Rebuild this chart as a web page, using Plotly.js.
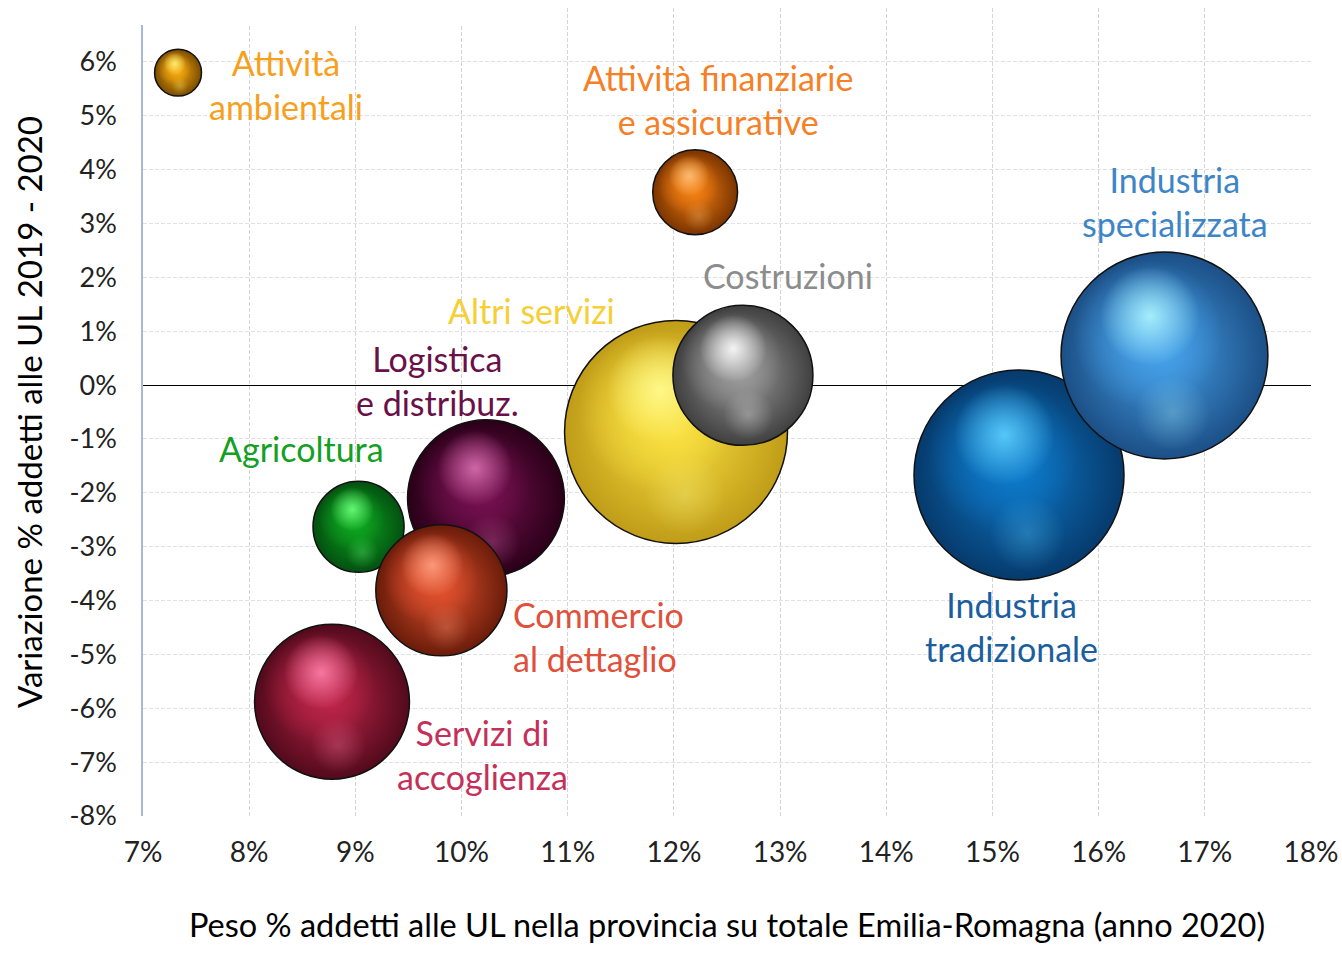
<!DOCTYPE html>
<html lang="it">
<head>
<meta charset="UTF-8">
<title>Addetti alle UL per settore</title>
<script src="https://cdn.plot.ly/plotly-3.0.1.min.js"></script>
<style>
    html, body { margin: 0; padding: 0; background: #fff; }
    #chart { width: 1342px; height: 971px; }
</style>
</head>
<body>
<div id="chart"></div>
<script>
// dati (ordine = ordine di disegno, dal fondo)
const settori = ['Altri servizi', 'Costruzioni', 'Industria tradizionale', 'Industria specializzata',
    'Logistica e distribuz.', 'Agricoltura', 'Commercio al dettaglio', 'Servizi di accoglienza',
    'Attività ambientali', 'Attività finanziarie e assicurative'];
const etichette = ['Altri servizi', 'Costruzioni', 'Industria<br>tradizionale', 'Industria<br>specializzata',
    'Logistica<br>e distribuz.', 'Agricoltura', 'Commercio<br>al dettaglio', 'Servizi di<br>accoglienza',
    'Attività<br>ambientali', 'Attività finanziarie<br>e assicurative'];
const peso = [12.02, 12.65, 15.25, 16.62, 10.23, 9.03, 9.81, 8.78, 7.33, 12.20];        // asse x, %
const variazione = [-0.87, 0.18, -1.67, 0.55, -2.10, -2.63, -3.81, -5.88, 5.80, 3.58];  // asse y, %
const dimensione = [497, 196, 441, 428, 246, 83, 172, 240, 22, 72];                     // area bolla

const xTicks = [7, 8, 9, 10, 11, 12, 13, 14, 15, 16, 17, 18];
const xTickText = ['7%', '8%', '9%', '10%', '11%', '12%', '13%', '14%', '15%', '16%', '17%', '18%'];
const yTicks = [-8, -7, -6, -5, -4, -3, -2, -1, 0, 1, 2, 3, 4, 5, 6];
const yTickText = ['-8%', '-7%', '-6%', '-5%', '-4%', '-3%', '-2%', '-1%', '0%', '1%', '2%', '3%', '4%', '5%', '6%'];

// colori: base, bordo scuro, riflesso, testo; spostamento etichetta in px
const stile = [
    { base: '#f9e040', dark: '#c09c18', light: '#fffb90', text: '#f5cf35', dx: -145, dy: 121 },
    { base: '#9a9a9a', dark: '#404040', light: '#ffffff', text: '#8c8c8c', dx: 45, dy: 100 },
    { base: '#0d78c8', dark: '#063a6c', light: '#5fd0ff', text: '#1b5e9e', dx: -8, dy: -151 },
    { base: '#45a0e8', dark: '#1c4f86', light: '#b0f6ff', text: '#3d85c6', dx: 11, dy: 154 },
    { base: '#74104f', dark: '#2a0018', light: '#d870b0', text: '#6a1049', dx: -48, dy: 118 },
    { base: '#0ca31e', dark: '#035010', light: '#70ff80', text: '#13a023', dx: -57, dy: 78 },
    { base: '#e0502e', dark: '#6a1c0a', light: '#ffa080', text: '#e0503a', dx: 70, dy: -46, left: true },
    { base: '#bc2448', dark: '#520a1c', light: '#ff80aa', text: '#c5305a', dx: 150, dy: -53 },
    { base: '#f5a80e', dark: '#7a4c00', light: '#fff27a', text: '#f6a01e', dx: 108, dy: -12 },
    { base: '#f27e12', dark: '#7a3400', light: '#ffc27a', text: '#f58025', dx: 23, dy: 93 }
];

const W = 1342, H = 971;
const margin = { l: 143, r: 31, t: 8, b: 155 };
const xRange = [7, 18], yRange = [-8, 7];
const pxX = (W - margin.l - margin.r) / (xRange[1] - xRange[0]);
const pxY = (H - margin.t - margin.b) / (yRange[1] - yRange[0]);
const sizeref = 0.02;

function rgba(hex, a) {
    const n = parseInt(hex.slice(1), 16);
    return 'rgba(' + (n >> 16) + ',' + ((n >> 8) & 255) + ',' + (n & 255) + ',' + a + ')';
}

// strato decorativo spostato rispetto al centro (frazioni del diametro)
function layer(i, d, ox, oy, scale, center, edge) {
    return {
        x: [peso[i] + ox * d / pxX],
        y: [variazione[i] + oy * d / pxY],
        type: 'scatter', mode: 'markers', hoverinfo: 'skip',
        marker: {
            size: [d * scale], sizemode: 'diameter', opacity: 1,
            color: edge, gradient: { type: 'radial', color: center },
            line: { width: 0 }
        }
    };
}

const traces = [];
settori.forEach((name, i) => {
    const s = stile[i];
    const d = Math.sqrt(2 * dimensione[i] / sizeref);
    traces.push({
        x: [peso[i]], y: [variazione[i]], name: name,
        type: 'scatter', mode: 'markers',
        hovertemplate: name + '<br>%{x:.1f}% ; %{y:.1f}%<extra></extra>',
        marker: {
            size: [dimensione[i]], sizemode: 'area', sizeref: sizeref, opacity: 1,
            color: s.dark, gradient: { type: 'radial', color: s.base },
            line: { color: '#111', width: 1.5 }
        }
    });
    traces.push(layer(i, d, -0.08, 0.1, 0.72, s.base, rgba(s.base, 0)));
    traces.push(layer(i, d, 0.04, -0.28, 0.36, rgba(s.light, 0.3), rgba(s.light, 0)));
    traces.push(layer(i, d, -0.07, 0.19, 0.48, rgba(s.light, 0.9), rgba(s.light, 0)));
});

const annotations = settori.map((name, i) => ({
    x: peso[i], y: variazione[i], xref: 'x', yref: 'y',
    text: etichette[i], showarrow: false,
    xshift: stile[i].dx, yshift: stile[i].dy,
    xanchor: stile[i].left ? 'left' : 'center',
    align: stile[i].left ? 'left' : 'center',
    font: { family: 'Lato, sans-serif', size: 34, color: stile[i].text }
}));

const layout = {
    width: W, height: H,
    margin: margin,
    paper_bgcolor: '#fff', plot_bgcolor: '#fff',
    showlegend: false,
    font: { family: 'Lato, sans-serif', color: '#222' },
    xaxis: {
        range: xRange, tickvals: xTicks, ticktext: xTickText,
        tickfont: { size: 28, color: '#222' }, ticks: '', ticklabelstandoff: 17,
        showgrid: true, gridcolor: '#d4d4d4', griddash: '4px,2px', gridwidth: 1,
        zeroline: false, showline: false,
        title: { text: 'Peso % addetti alle UL nella provincia su totale Emilia-Romagna (anno 2020)',
                 font: { size: 32.5, color: '#000' }, standoff: 47 }
    },
    yaxis: {
        range: yRange, tickvals: yTicks, ticktext: yTickText,
        tickfont: { size: 27, color: '#222' }, ticks: '', ticklabelstandoff: 19,
        showgrid: true, gridcolor: '#dce1ea', griddash: '4px,2px', gridwidth: 1,
        zeroline: true, zerolinecolor: '#000', zerolinewidth: 1,
        showline: true, linecolor: '#aab8d6', linewidth: 1.5,
        title: { text: 'Variazione % addetti alle UL 2019 - 2020',
                 font: { size: 33, color: '#000' }, standoff: 17 }
    },
    shapes: [{
        type: 'rect', xref: 'paper', yref: 'paper', layer: 'above',
        x0: -0.01, x1: 0.3125, y0: 0.979, y1: 1.01,
        fillcolor: '#fff', line: { width: 0 }
    }],
    annotations: annotations
};

Plotly.newPlot('chart', traces, layout, { displayModeBar: false, responsive: false });
</script>
</body>
</html>
